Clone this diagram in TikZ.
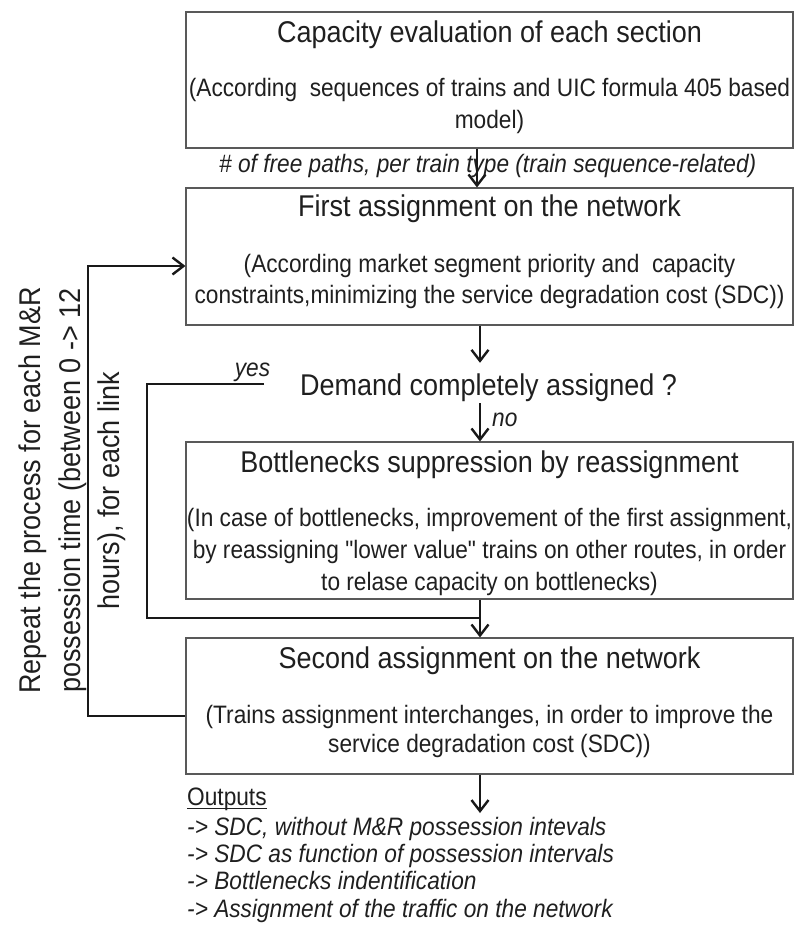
\documentclass[tikz,border=0pt]{standalone}
\usepackage{fontspec}
\setmainfont{Liberation Sans}[FakeStretch=0.9]
\newfontfamily\af{Liberation Sans}[FakeStretch=0.9]
\usetikzlibrary{arrows.meta}
\begin{document}
\begin{tikzpicture}[x=1pt,y=-1pt,
  box/.style={draw=black!65, line width=1.1pt, minimum width=607pt, inner sep=0pt},
  ttl/.style={font=\af\fontsize{30}{36}\selectfont, anchor=base, inner sep=0pt, text=black!88},
  txt/.style={font=\af\fontsize{25.2}{31}\selectfont, anchor=base, inner sep=0pt, text=black!88},
  itx/.style={font=\af\fontsize{25.2}{31}\selectfont\itshape, anchor=base, inner sep=0pt, text=black!88},
  rot/.style={font=\af\fontsize{30}{36}\selectfont, anchor=base, inner sep=0pt, rotate=90, text=black!88},
  conn/.style={line width=2.4pt, draw=black!90},
  arr/.style={conn, -{Straight Barb[length=11pt,width=17pt]}},
]
\useasboundingbox (0,0) rectangle (795,935);

% boxes
\node[box, minimum height=136pt] (b1) at (489.5,80) {};
\node[box, minimum height=137pt] (b2) at (489.5,256.5) {};
\node[box, minimum height=157pt] (b3) at (489.5,520.5) {};
\node[box, minimum height=136pt] (b4) at (489.5,706) {};

% box 1 texts
\node[ttl] (t1) at (489.5,42.7) {Capacity evaluation of each section};
\node[txt] (t1a) at (489.5,96.7) {(According\ \ sequences of trains and UIC formula 405 based};
\node[txt] (t1b) at (489.5,128) {model)};
\node[itx, anchor=base west] (lab1) at (219,172.7) {\# of free paths, per train type (train sequence-related)};

% box 2 texts
\node[ttl] (t2) at (489.5,216.7) {First assignment on the network};
\node[txt] (t2a) at (489.5,272) {(According market segment priority and\ \ capacity};
\node[txt] (t2b) at (489.5,303) {constraints,minimizing the service degradation cost (SDC))};

% decision
\node[font=\af\fontsize{30}{36}\selectfont, inner sep=0pt, text height=32pt, text depth=8pt, anchor=west, text=black!88] (q) at (300,383) {Demand completely assigned ?};
\node[itx] (yes) at (252.5,376.7) {yes};
\node[itx, anchor=base west] (no) at (492,426) {no};

% box 3 texts
\node[ttl] (t3) at (489.5,472.7) {Bottlenecks suppression by reassignment};
\node[txt] (t3a) at (489.5,526.7) {(In case of bottlenecks, improvement of the first assignment,};
\node[txt] (t3b) at (489.5,558) {by reassigning "lower value" trains on other routes, in order};
\node[txt] (t3c) at (489.5,590) {to relase capacity on bottlenecks)};

% box 4 texts
\node[ttl] (t4) at (489.5,668.3) {Second assignment on the network};
\node[txt] (t4a) at (489.5,723.3) {(Trains assignment interchanges, in order to improve the};
\node[txt] (t4b) at (489.5,752.7) {service degradation cost (SDC))};

% rotated text
\node[rot] (r1) at (40,490.5) {Repeat the process for each M\&R};
\node[rot] (r2) at (80,490.5) {possession time (between 0 -> 12};
\node[rot] (r3) at (119,490.5) {hours), for each link};

% outputs
\node[txt, anchor=base west] (outp) at (187,805) {Outputs};
\draw[line width=1.4pt, black!88] ([yshift=-3.5pt]outp.base west) -- ([yshift=-3.5pt]outp.base east);
\node[itx, anchor=base west] (o1) at (187,835) {-> SDC, without M\&R possession intevals};
\node[itx, anchor=base west] (o2) at (187,862) {-> SDC as function of possession intervals};
\node[itx, anchor=base west] (o3) at (187,889) {-> Bottlenecks indentification};
\node[itx, anchor=base west] (o4) at (187,917) {-> Assignment of the traffic on the network};

% connectors
\coordinate (x1) at (477,0);
\coordinate (xc) at (480,0);
\draw[arr] (b1.south -| x1) -- (b2.north -| x1);
\draw[arr] (b2.south -| xc) -- (q.north -| xc);
\draw[arr] (q.south -| xc) -- (b3.north -| xc);
\draw[arr] (b3.south -| xc) -- (b4.north -| xc);
\coordinate (ye) at (264,384);
\coordinate (yc) at (147,618);
\draw[conn] (ye) -| (yc) -- (yc -| xc);
\coordinate (lb) at (88,716);
\coordinate (lt) at (88,266);
\draw[arr] (b4.west |- lb) -- (lb) -- (lt) -- (b2.west |- lt);
\coordinate (oe) at (480,813);
\draw[arr] (b4.south -| xc) -- (oe);
\end{tikzpicture}
\end{document}
